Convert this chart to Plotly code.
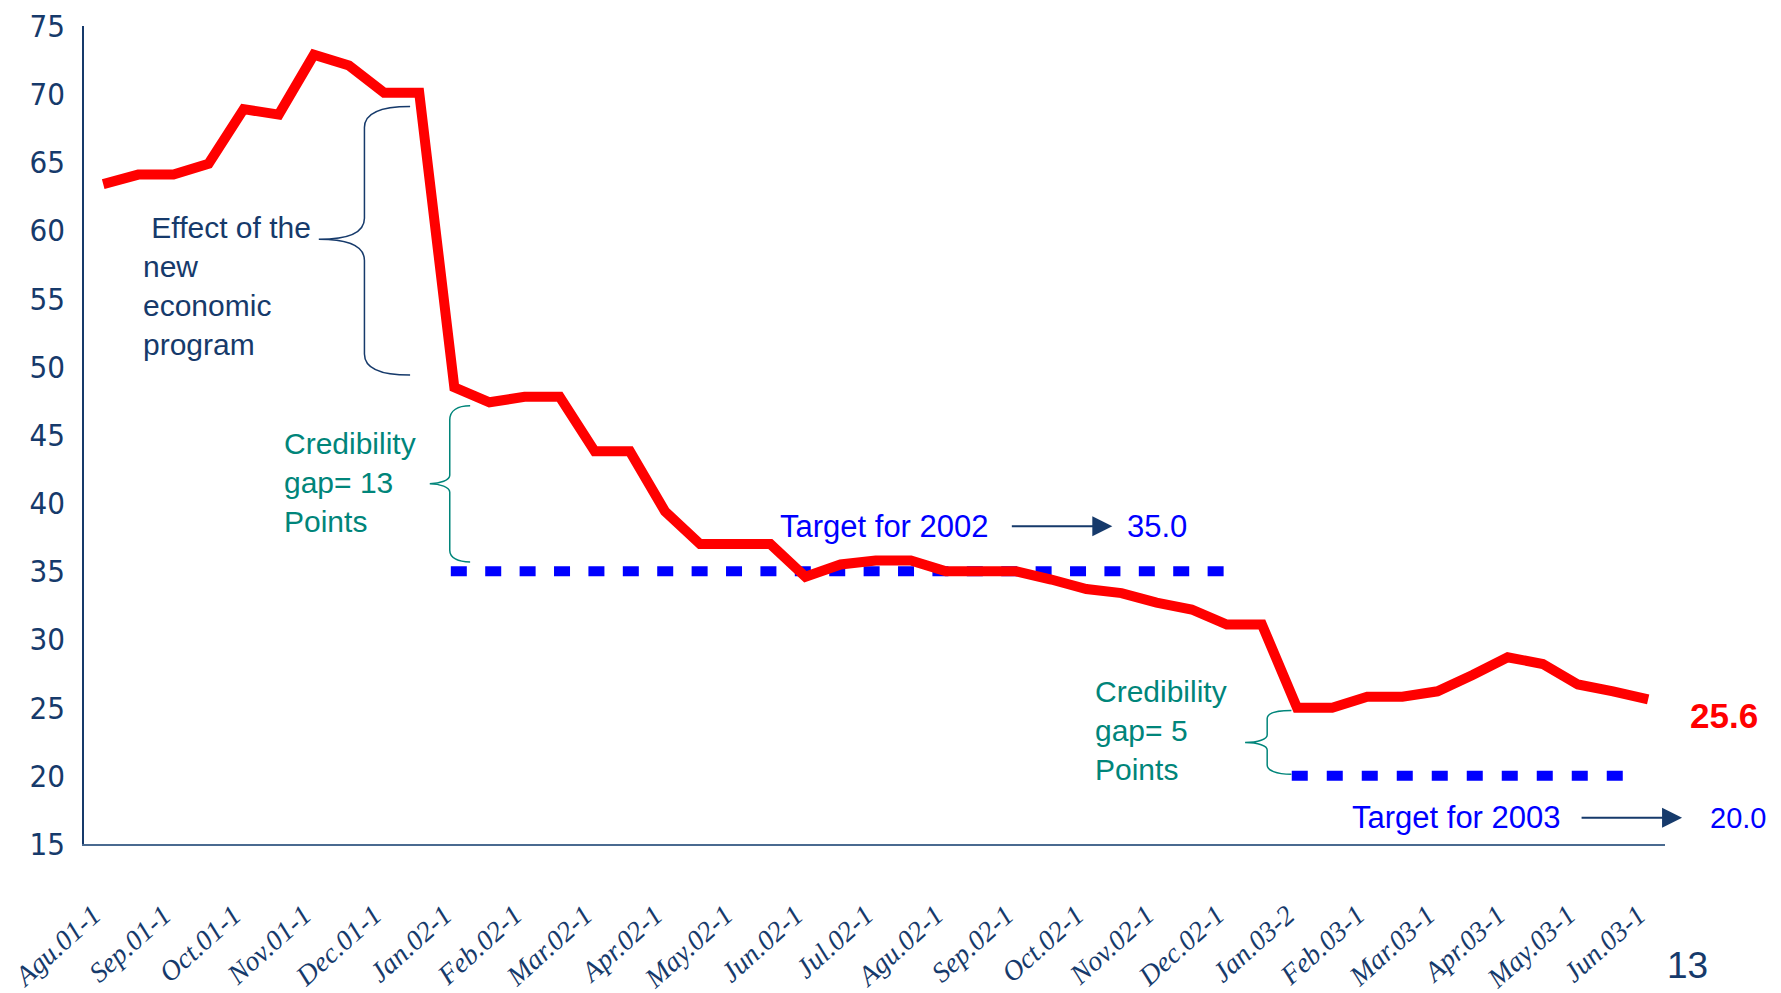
import plotly.graph_objects as go

# half-monthly observations, one tick label per month
months = ['Agu.01-1', 'Sep.01-1', 'Oct.01-1', 'Nov.01-1', 'Dec.01-1', 'Jan.02-1',
          'Feb.02-1', 'Mar.02-1', 'Apr.02-1', 'May.02-1', 'Jun.02-1', 'Jul.02-1',
          'Agu.02-1', 'Sep.02-1', 'Oct.02-1', 'Nov.02-1', 'Dec.02-1', 'Jan.03-2',
          'Feb.03-1', 'Mar.03-1', 'Apr.03-1', 'May.03-1', 'Jun.03-1']

rate = [63.4, 64.1, 64.1, 64.9, 68.9, 68.5, 72.9, 72.1, 70.1, 70.1,
        48.5, 47.4, 47.8, 47.8, 43.8, 43.8, 39.4, 37.0, 37.0, 37.0,
        34.6, 35.5, 35.8, 35.8, 35.0, 35.0, 35.0, 34.4, 33.7, 33.4,
        32.7, 32.2, 31.1, 31.1, 25.0, 25.0, 25.8, 25.8, 26.2, 27.4,
        28.7, 28.2, 26.7, 26.2, 25.6]

target_2002 = 35.0
target_2003 = 20.0

NAVY = '#163a6b'
TEAL = '#00857a'
BLUE = '#0000ff'
RED = '#ff0000'

x = list(range(len(rate)))

fig = go.Figure()

fig.add_trace(go.Scatter(
    x=[9.9, 32.36], y=[target_2002, target_2002], mode='lines',
    line=dict(color=BLUE, width=10, dash='16px,18.4px'),
    hoverinfo='skip'
))
fig.add_trace(go.Scatter(
    x=[33.85, 43.4], y=[target_2003, target_2003], mode='lines',
    line=dict(color=BLUE, width=10, dash='16px,19px'),
    hoverinfo='skip'
))
fig.add_trace(go.Scatter(
    x=x, y=rate, mode='lines',
    line=dict(color=RED, width=10),
    hovertemplate='%{y:.1f}<extra></extra>'
))

# curly braces
brace_big = ('M 8.74,69.1 C 7.9,69.1 7.44,68.6 7.44,67.55 L 7.44,60.9 '
             'C 7.44,59.9 7.0,59.35 6.14,59.35 C 7.0,59.35 7.44,58.8 7.44,57.8 '
             'L 7.44,50.95 C 7.44,49.9 7.9,49.4 8.74,49.4')
brace_13 = ('M 10.45,47.15 C 10.1,47.15 9.87,46.8 9.87,46.1 L 9.87,42.05 '
            'C 9.87,41.7 9.6,41.43 9.3,41.43 C 9.6,41.43 9.87,41.15 9.87,40.8 '
            'L 9.87,36.55 C 9.87,36.0 10.1,35.69 10.45,35.69')
brace_5 = ('M 33.84,24.8 C 33.4,24.8 33.15,24.6 33.15,24.2 L 33.15,23.0 '
           'C 33.15,22.7 32.9,22.44 32.52,22.44 C 32.9,22.44 33.15,22.2 33.15,21.9 '
           'L 33.15,20.8 C 33.15,20.4 33.4,20.12 33.84,20.12')
for path, col in [(brace_big, NAVY), (brace_13, TEAL), (brace_5, TEAL)]:
    fig.add_shape(type='path', path=path, xref='x', yref='y',
                  line=dict(color=col, width=1.5))

SANS = 'Liberation Sans, Arial, sans-serif'
txt_font = dict(family=SANS, size=30)

fig.add_annotation(x=1.07, y=55.95, xref='x', yref='y', xanchor='left', yanchor='middle',
                   align='left', showarrow=False,
                   text='&nbsp;Effect of the<br>new<br>economic<br>program',
                   font=dict(txt_font, color=NAVY))
fig.add_annotation(x=5.08, y=41.55, xref='x', yref='y', xanchor='left', yanchor='middle',
                   align='left', showarrow=False,
                   text='Credibility<br>gap= 13<br>Points',
                   font=dict(txt_font, color=TEAL))
fig.add_annotation(x=28.19, y=23.3, xref='x', yref='y', xanchor='left', yanchor='middle',
                   align='left', showarrow=False,
                   text='Credibility<br>gap= 5<br>Points',
                   font=dict(txt_font, color=TEAL))

# target labels and arrows
fig.add_annotation(x=19.22, y=38.3, xref='x', yref='y', xanchor='left', yanchor='middle',
                   showarrow=False, text='Target for 2002',
                   font=dict(family=SANS, size=31, color=BLUE))
fig.add_annotation(x=28.74, y=38.3, xref='x', yref='y', text='', showarrow=True,
                   axref='pixel', ayref='pixel', ax=-102, ay=0,
                   arrowhead=2, arrowsize=2, arrowwidth=2, arrowcolor=NAVY)
fig.add_annotation(x=29.1, y=38.3, xref='x', yref='y', xanchor='left', yanchor='middle',
                   showarrow=False, text=f'{target_2002:.1f}',
                   font=dict(family=SANS, size=31, color=BLUE))

fig.add_annotation(x=35.5, y=16.93, xref='x', yref='y', xanchor='left', yanchor='middle',
                   showarrow=False, text='Target for 2003',
                   font=dict(family=SANS, size=31, color=BLUE))
fig.add_annotation(x=1.0108, y=16.93, xref='paper', yref='y', text='', showarrow=True,
                   axref='pixel', ayref='pixel', ax=-102, ay=0,
                   arrowhead=2, arrowsize=2, arrowwidth=2, arrowcolor=NAVY)
fig.add_annotation(x=1.0272, y=16.93, xref='paper', yref='y', xanchor='left', yanchor='middle',
                   showarrow=False, text=f'{target_2003:.1f}',
                   font=dict(family=SANS, size=29, color=BLUE))

fig.add_annotation(x=1.0373, y=24.42, xref='paper', yref='y', xanchor='center', yanchor='middle',
                   showarrow=False, text=f'<b>{rate[-1]:.1f}</b>',
                   font=dict(family=SANS, size=35, color=RED))

fig.add_annotation(x=1.0145, y=-0.149, xref='paper', yref='paper', xanchor='center', yanchor='middle',
                   showarrow=False, text='13',
                   font=dict(family=SANS, size=37, color=NAVY))

fig.update_layout(
    width=1781, height=993,
    margin=dict(l=76, r=124, t=18, b=157),
    paper_bgcolor='white', plot_bgcolor='white',
    showlegend=False,
    xaxis=dict(
        range=[-0.547, 44.48], automargin=False, ticklabeloverflow='allow',
        tickmode='array', tickvals=list(range(0, len(rate), 2)), ticktext=months,
        tickangle=-42, ticks='', showgrid=False, zeroline=False,
        showline=True, linecolor='#4a6a90', linewidth=1.5,
        ticklabelstandoff=42, ticklabelshift=-10,
        tickfont=dict(family='Liberation Serif, Times New Roman, serif', style='italic',
                      size=28, color=NAVY)
    ),
    yaxis=dict(
        range=[15, 75], dtick=5, ticks='', showgrid=False, zeroline=False,
        automargin=False, ticklabeloverflow='allow',
        showline=True, linecolor=NAVY, linewidth=1.5,
        ticklabelstandoff=11,
        tickfont=dict(family='Liberation Sans Narrow, DejaVu Sans Condensed, Liberation Sans, sans-serif',
                      size=31, color=NAVY)
    )
)

fig.write_html("out.html")
